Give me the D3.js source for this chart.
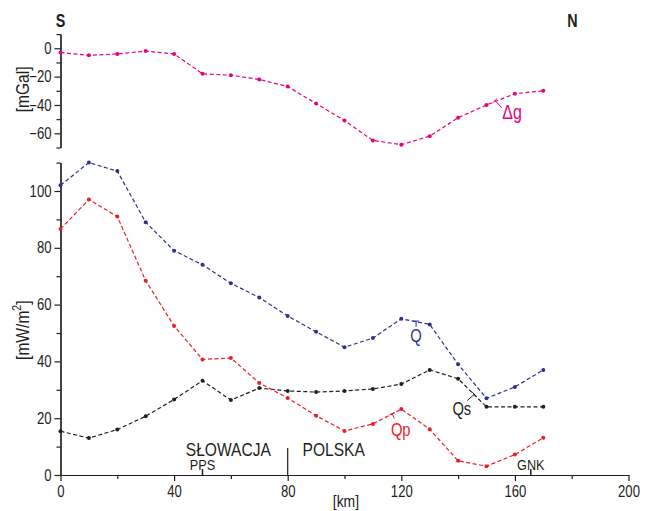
<!DOCTYPE html>
<html>
<head>
<meta charset="utf-8">
<script src="https://cdn.jsdelivr.net/npm/d3@7"></script>
<style>
  html, body { margin: 0; padding: 0; background: #fff; }
  svg { display: block; }
  text { font-family: "Liberation Sans", Arial, sans-serif; fill: #231f20; }
</style>
</head>
<body>
<svg id="chart" width="651" height="511"></svg>
<script>
// ---- data ----
const km = [0, 10, 20, 30, 40, 50, 60, 70, 80, 90, 100, 110, 120, 130, 140, 150, 160, 170];
const dg = [-3, -5, -4, -2, -4, -18, -19, -22, -27, -39, -51, -65, -68, -62, -49, -40, -32, -30];
const Q  = [102, 110, 107, 89, 79, 74, 67.5, 62.5, 56, 50.4, 45, 48.2, 55, 53, 39, 27, 31, 37];
const Qp = [86.6, 97, 91, 68.4, 52.5, 40.7, 41.2, 32.4, 27.1, 20.9, 15.5, 18, 23.2, 16.1, 5, 3.1, 7.2, 13.1];
const Qs = [15.4, 13, 16, 20.7, 26.6, 33.2, 26.4, 30.6, 29.6, 29.2, 29.6, 30.3, 32, 37, 33.9, 24, 24, 24];

const xMajor = [0, 40, 80, 120, 160, 200];
const xMinor = [20, 60, 100, 140, 180];
const gMajor = [0, -20, -40, -60];
const gMinor = [10, -10, -30, -50, -70];
const hMajor = [0, 20, 40, 60, 80, 100];
const hMinor = [10, 30, 50, 70, 90, 110];

const sites = [{name: "PPS", km: 50}, {name: "GNK", km: 165.6}];
const countries = [{name: "SŁOWACJA", km: 59.1}, {name: "POLSKA", km: 96.2}];
const borderKm = 80;

const colors = {dg: "#e6007e", Q: "#2e3192", Qp: "#ed1c24", Qs: "#231f20"};

const SX = 0.82; // horizontal condensing to mimic a narrow typeface

// ---- scales ----
const svg = d3.select("#chart");
const x = d3.scaleLinear().domain([0, 200]).range([60.5, 628.5]);
const yG = d3.scaleLinear().domain([-70, 10]).range([147.5, 34.1]);
const yH = d3.scaleLinear().domain([0, 110]).range([475, 162.6]);

const FS = 16;

function narrowText(px, py, str, size, opts = {}) {
  const g = svg.append("g").attr("transform",
    `translate(${px},${py})${opts.rotate ? " rotate(" + opts.rotate + ")" : ""} scale(${SX},1)`);
  const t = g.append("text").attr("x", 0).attr("y", 0)
    .attr("text-anchor", opts.anchor || "middle").attr("font-size", size);
  if (opts.weight) t.attr("font-weight", opts.weight);
  if (opts.color) t.style("fill", opts.color);
  if (str !== null) t.text(str);
  return t;
}

function styleAxis(g) {
  g.selectAll("path, line").attr("stroke", "#231f20").attr("stroke-width", 1.2);
  g.selectAll("text").attr("font-size", FS).attr("fill", "#231f20")
    .style("font-family", '"Liberation Sans", Arial, sans-serif')
    .each(function() {
      const t = d3.select(this);
      const xv = +t.attr("x") || 0;
      t.attr("x", xv / SX).attr("transform", `scale(${SX},1)`);
    });
}

// x axis
svg.append("g").attr("transform", `translate(0,${yH(0)})`)
  .call(d3.axisBottom(x).tickValues(xMinor).tickSize(4).tickSizeOuter(0).tickFormat(""))
  .call(styleAxis);
svg.append("g").attr("transform", `translate(0,${yH(0)})`)
  .call(d3.axisBottom(x).tickValues(xMajor).tickSize(6).tickSizeOuter(0).tickPadding(5))
  .call(styleAxis);

// gravity axis
svg.append("g").attr("transform", `translate(${x(0)},0)`)
  .call(d3.axisLeft(yG).tickValues(gMinor).tickSize(4).tickSizeOuter(0).tickFormat(""))
  .call(styleAxis);
svg.append("g").attr("transform", `translate(${x(0)},0)`)
  .call(d3.axisLeft(yG).tickValues(gMajor).tickSize(6).tickSizeOuter(0).tickPadding(3))
  .call(styleAxis);

// heat flow axis
svg.append("g").attr("transform", `translate(${x(0)},0)`)
  .call(d3.axisLeft(yH).tickValues(hMinor).tickSize(4).tickSizeOuter(0).tickFormat(""))
  .call(styleAxis);
svg.append("g").attr("transform", `translate(${x(0)},0)`)
  .call(d3.axisLeft(yH).tickValues(hMajor).tickSize(6).tickSizeOuter(0).tickPadding(3))
  .call(styleAxis);

// axis titles
narrowText(29, yG(-29), "[mGal]", 19, {rotate: -90});
const t2 = narrowText(29, yH(51), null, 19, {rotate: -90});
t2.append("tspan").text("[mW/m");
t2.append("tspan").attr("baseline-shift", "super").attr("font-size", 13).text("2");
t2.append("tspan").text("]");
narrowText(x(100.5), 507, "[km]", 17);

// S / N
narrowText(x(0), 27, "S", 17.5, {weight: "bold"});
narrowText(x(180.3), 27, "N", 17.5, {weight: "bold"});

// border & countries
svg.append("line").attr("x1", x(borderKm)).attr("x2", x(borderKm))
  .attr("y1", yH(0)).attr("y2", yH(9.5)).attr("stroke", "#231f20").attr("stroke-width", 1.2);
countries.forEach(c => narrowText(x(c.km), 455.5, c.name, 19));

// sites
svg.selectAll(".siteTick").data(sites).join("line").attr("class", "siteTick")
  .attr("x1", d => x(d.km)).attr("x2", d => x(d.km))
  .attr("y1", yH(0)).attr("y2", yH(0) - 6).attr("stroke", "#231f20").attr("stroke-width", 1.5);
sites.forEach(s => narrowText(x(s.km), 469.5, s.name, 15.5));

// series
const series = [
  {key: "dg", vals: dg, y: yG},
  {key: "Q", vals: Q, y: yH},
  {key: "Qs", vals: Qs, y: yH},
  {key: "Qp", vals: Qp, y: yH}
];
series.forEach(s => {
  const pts = km.map((k, i) => [k, s.vals[i]]);
  const line = d3.line().x(d => x(d[0])).y(d => s.y(d[1]));
  svg.append("path").datum(pts).attr("d", line).attr("fill", "none")
    .attr("stroke", colors[s.key]).attr("stroke-width", 1.2).attr("stroke-dasharray", "4,2.5");
  svg.append("g").selectAll("circle").data(pts).join("circle")
    .attr("cx", d => x(d[0])).attr("cy", d => s.y(d[1])).attr("r", 2)
    .attr("fill", colors[s.key]);
});

// labels with leaders (positions in data units)
const labels = [
  {key: "Q",  text: "Q",  y: yH, tx: 125.2, ty: 46.8, l: [[125.2, 54.2], [125.2, 52.2]], fs: 18},
  {key: "Qs", text: "Qs", y: yH, tx: 141.3, ty: 21.1, l: [[145.7, 28.4], [143.2, 26.2]], fs: 18},
  {key: "Qp", text: "Qp", y: yH, tx: 119.8, ty: 13.6, l: [[116.8, 21.6], [117.5, 19.9]], fs: 18},
  {key: "dg", text: "Δg", y: yG, tx: 159.0, ty: -49.9, l: [[153.0, -36.9], [155.4, -42.0]], fs: 19.5}
];
labels.forEach(lb => {
  const c = colors[lb.key];
  const p0 = [x(lb.l[0][0]), lb.y(lb.l[0][1])];
  const p1 = [x(lb.l[1][0]), lb.y(lb.l[1][1])];
  svg.append("line").attr("x1", p0[0]).attr("y1", p0[1]).attr("x2", p1[0]).attr("y2", p1[1])
    .attr("stroke", c).attr("stroke-width", 1);
  const dx = p1[0] - p0[0], dy = p1[1] - p0[1];
  const len = Math.hypot(dx, dy) || 1;
  const nx = -dy / len * 3, ny = dx / len * 3;
  svg.append("line").attr("x1", p0[0] - nx).attr("y1", p0[1] - ny)
    .attr("x2", p0[0] + nx).attr("y2", p0[1] + ny).attr("stroke", c).attr("stroke-width", 1);
  narrowText(x(lb.tx), lb.y(lb.ty), lb.text, lb.fs, {color: c});
});
</script>
</body>
</html>
